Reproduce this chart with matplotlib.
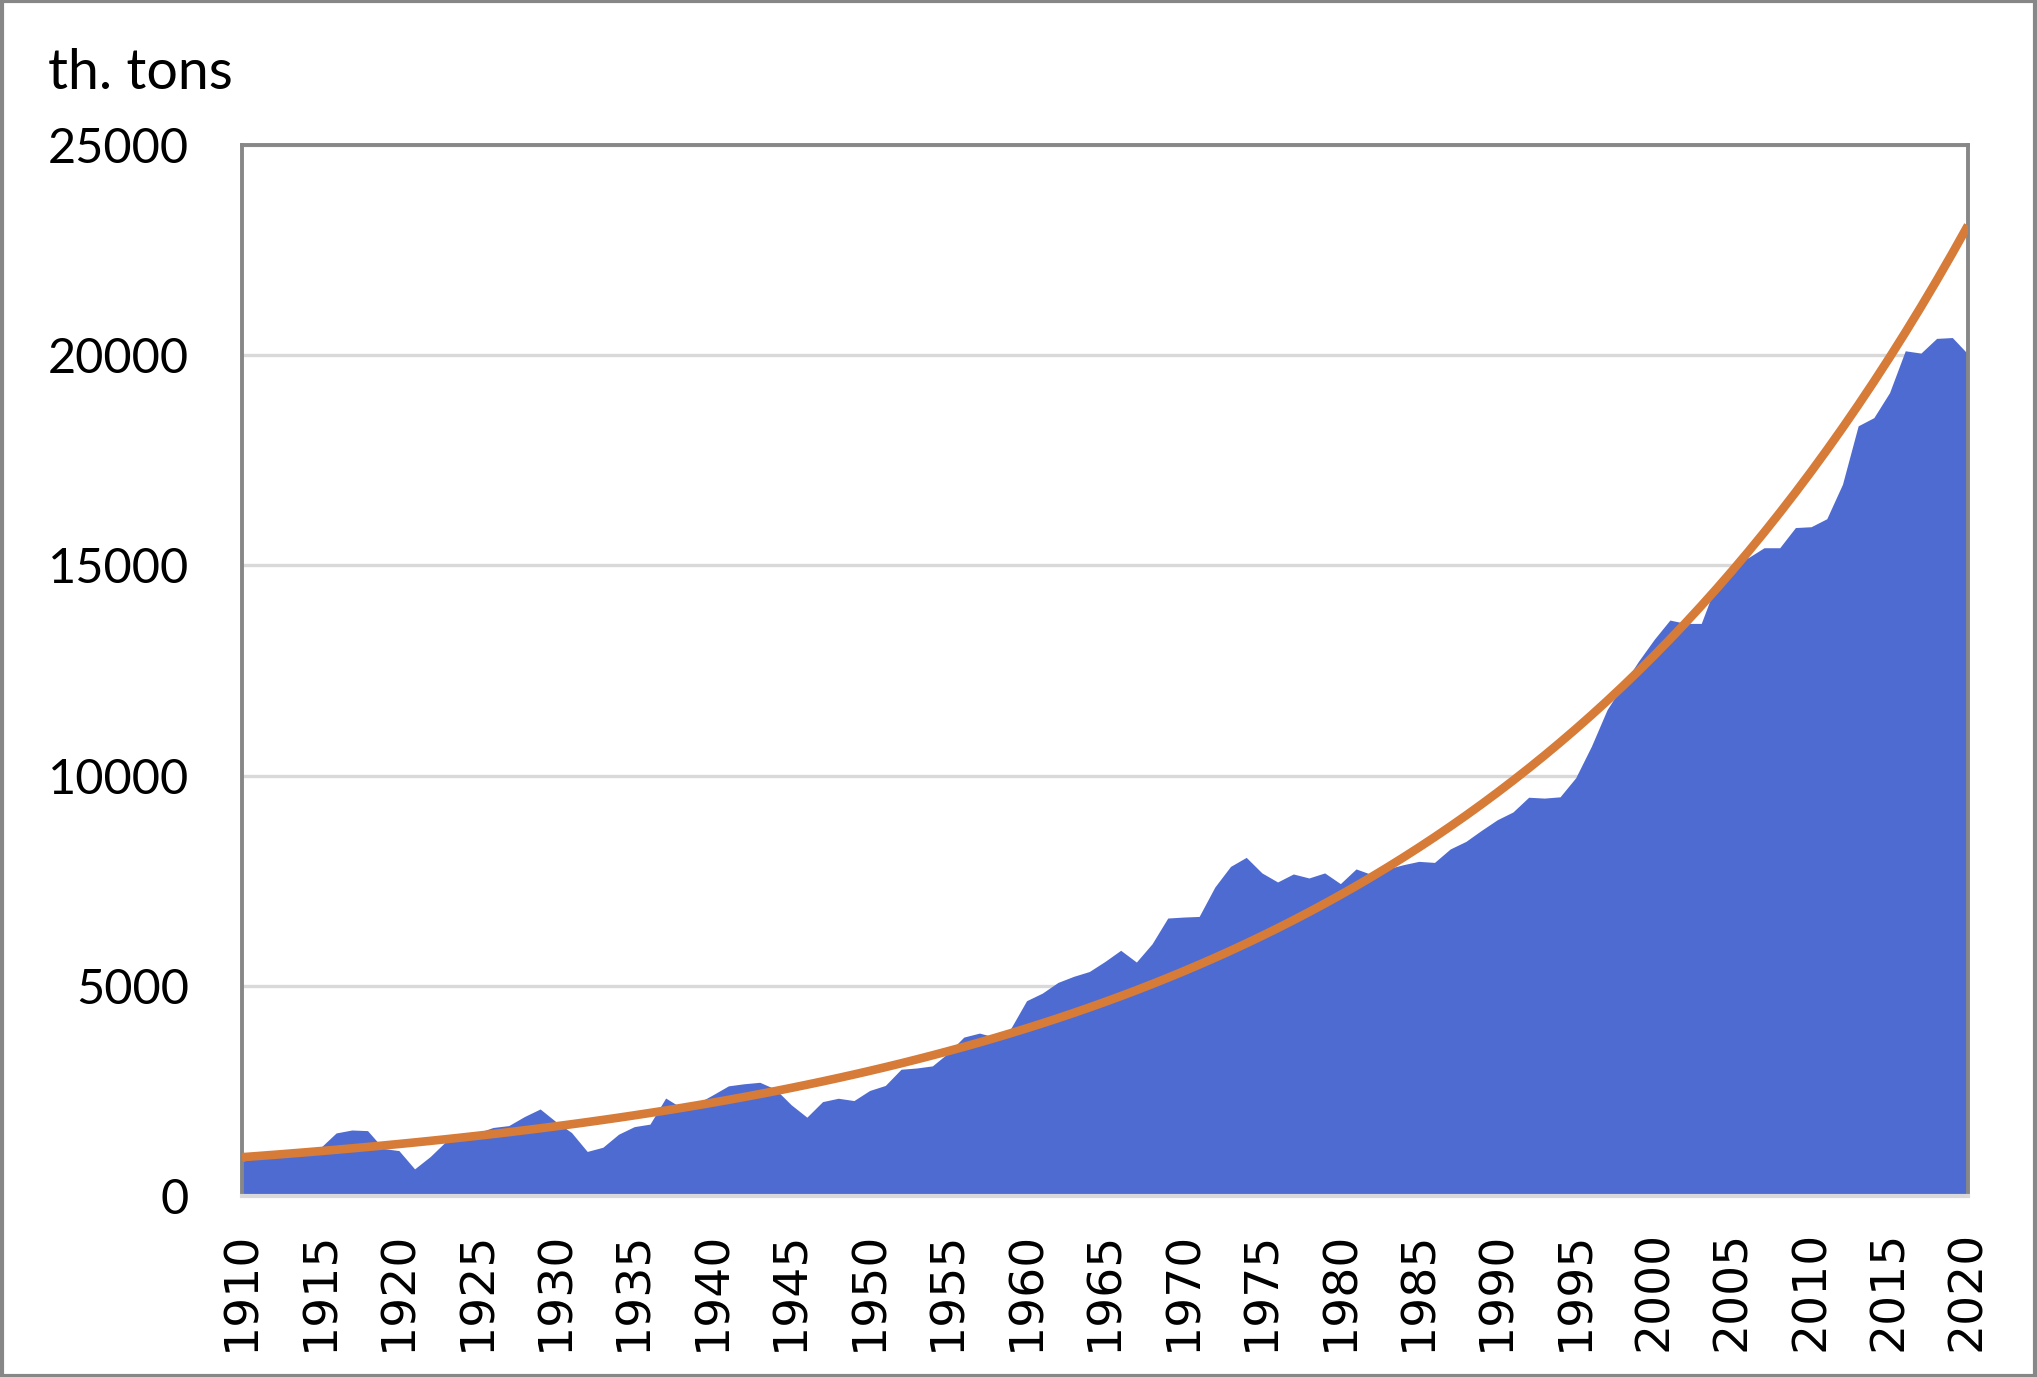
import numpy as np
import matplotlib.pyplot as plt
from matplotlib.patches import Rectangle

years = list(range(1910, 2021))
tons = [830, 900, 960, 1020, 1080, 1150, 1500, 1570, 1555, 1130,
        1080, 645, 940, 1300, 1410, 1500, 1630, 1675, 1890, 2070,
        1770, 1510, 1060, 1160, 1470, 1650, 1710, 2330, 2100, 2200,
        2405, 2620, 2670, 2705, 2540, 2170, 1875, 2245, 2325, 2270,
        2510, 2630, 3015, 3045, 3095, 3400, 3780, 3875, 3775, 3990,
        4645, 4825, 5080, 5225, 5340, 5580, 5845, 5565, 6000, 6612,
        6635, 6650, 7350, 7840, 8055, 7685, 7470, 7660, 7565, 7685,
        7430, 7780, 7645, 7780, 7880, 7960, 7935, 8255, 8435, 8700,
        8950, 9135, 9485, 9465, 9495, 9950, 10700, 11570, 12150, 12720,
        13240, 13700, 13620, 13620, 14610, 15025, 15185, 15420, 15420, 15900,
        15920, 16110, 16930, 18320, 18515, 19110, 20105, 20050, 20400, 20420,
        20025]

blue = '#4e6bd1'
orange = '#d67b38'
grey = '#878787'
light = '#d9d9d9'

fig = plt.figure(figsize=(20.37, 13.77), dpi=100)
ax = fig.add_axes([242/2037, 1 - 1196/1377, (1968-242)/2037, (1196-145)/1377])

ax.fill_between(years, tons, 0, color=blue, linewidth=0, zorder=2)

# exponential trend line, fitted like Excel does
x = np.arange(1, len(years) + 1)
b, a = np.polyfit(x, np.log(tons), 1)
trend = np.exp(a + b * x)
ax.plot(years, trend, color=orange, linewidth=6.2, solid_capstyle='butt', zorder=3)

ax.set_xlim(1910, 2020)
ax.set_ylim(0, 25000)
ax.set_yticks(range(0, 25001, 5000))
ax.set_xticks(range(1910, 2021, 5))
ax.set_xticklabels([str(y) for y in range(1910, 2021, 5)], rotation=90,
                   family='DejaVu Sans', fontsize=34)
ax.set_yticklabels([str(v) for v in range(0, 25001, 5000)], family='Lato', fontsize=35)
ax.tick_params(axis='x', length=0, pad=25)
ax.tick_params(axis='y', length=0, pad=38)
ax.grid(axis='y', color=light, linewidth=2.4, zorder=1)
ax.set_axisbelow(True)

for s in ['left', 'top', 'right']:
    ax.spines[s].set_color(grey)
    ax.spines[s].set_linewidth(2.8)
ax.spines['bottom'].set_color(light)
ax.spines['bottom'].set_linewidth(3)
ax.spines['bottom'].set_zorder(4)

fig.text(48/2037, 1 - 89/1377, 'th. tons', family='Lato', fontsize=40, va='baseline')

fig.patches.append(Rectangle((0.001, 0.001), 0.998, 0.998, transform=fig.transFigure,
                             fill=False, edgecolor=grey, linewidth=3))

fig.savefig('out.png', dpi=100)
